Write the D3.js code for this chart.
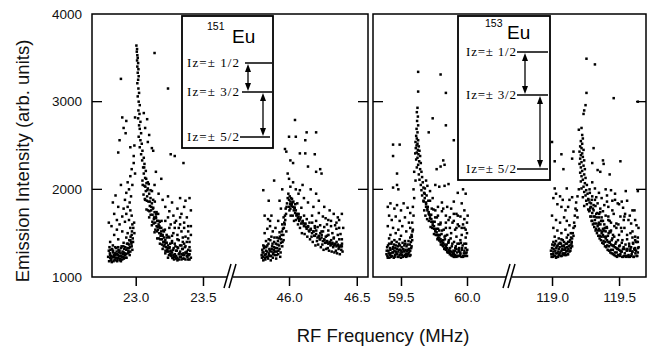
<!DOCTYPE html>
<html><head><meta charset="utf-8">
<script src="https://cdn.jsdelivr.net/npm/d3@7"></script>
<style>body{margin:0;background:#fff}</style>
</head><body><svg id="c" width="651" height="355"></svg>
<script>
// ---------- data ----------
const yTicks = [1000, 2000, 3000, 4000];
const segTicks = [[23.0, 23.5], [46.0, 46.5], [59.5, 60.0], [119.0, 119.5]];
const segDomains = [[22.675, 23.686], [45.579, 46.583], [59.288, 60.303], [118.694, 119.701]];
const isotopes = ["151", "153"];
const levelLabels = ["Iz=\u00B1 1/2", "Iz=\u00B1 3/2", "Iz=\u00B1 5/2"];

// 151Eu, ±1/2 <-> ±3/2 line (~23.0 MHz)
const peak1 = [
[23.005,3640],[23.01,3600],[23.008,3570],[23.012,3530],[23.015,3500],[23.01,3470],[23.018,3440],[23.012,3400],[23.02,3370],[23.015,3330],[23.022,3290],[23.018,3250],[23.012,3210],[23.02,3150],[23.025,3100],[23.015,3060],[23.022,3000],[23.03,2960],[23.02,2900],[23.028,2860],[23.018,2810],[23.035,2770],[23.025,2730],[23.03,2690],[23.04,2640],[23.022,2600],[23.035,2560],[23.045,2520],[23.03,2480],[23.05,2440],[23.04,2400],[23.06,2360],[23.048,2330],[23.065,2290],[23.055,2250],[23.075,2210],
[23.14,3555],[22.89,3260],[23.24,3150],[23.26,2400],[23.29,2380],[23.355,2300],[22.90,2820],[22.93,2780],[22.91,2700],[22.925,2640],[22.88,2560],[22.96,2480],[22.87,2420],[22.995,2820],[23.06,2870],[23.085,2800],[23.07,2700],[23.1,2620],[23.09,2540],[23.12,2470],[22.99,2500],[22.985,2380],[23.13,2440],
[22.985,2300],[22.97,2230],[22.995,2180],[22.96,2150],[22.94,2080],[22.975,2050],[22.95,2000],[22.93,1960],[22.965,1920],[22.92,1880],[22.955,1850],[22.94,1800],[22.91,1780],[22.96,1760],[22.93,1720],[22.97,1700],[22.9,1690],[22.95,1650],[22.92,1630],[22.975,1600],[22.96,1560],[22.88,1600],[22.86,1650],[22.84,1720],[22.87,1800],[22.83,1850],[22.85,1930],[22.89,2050],[22.82,1580],[22.80,1620],[22.86,1540],[22.9,1520],[22.94,1500],[22.97,1480],[22.93,1450],[22.96,1420],[22.84,1480],[22.81,1400],[22.87,1430],[22.91,1390],[22.95,1370],
[22.80,1300],[22.81,1250],[22.82,1210],[22.83,1280],[22.84,1230],[22.85,1190],[22.86,1260],[22.87,1220],[22.88,1300],[22.89,1240],[22.90,1200],[22.91,1280],[22.92,1250],[22.93,1310],[22.94,1270],[22.95,1330],[22.96,1290],[22.97,1350],[22.98,1400],[22.805,1340],[22.815,1190],[22.825,1320],[22.835,1180],[22.845,1270],[22.855,1330],[22.865,1200],[22.875,1280],[22.885,1210],[22.895,1350],[22.905,1260],[22.915,1320],[22.925,1220],[22.935,1380],[22.945,1300],[22.955,1250],[22.965,1400],[22.975,1310],[22.81,1220],[22.83,1360],[22.85,1250],[22.87,1340],[22.89,1180],[22.91,1230],
[22.795,1230],[22.802,1180],[22.808,1270],[22.813,1310],[22.818,1240],[22.822,1170],[22.828,1230],[22.832,1300],[22.838,1250],[22.842,1200],[22.848,1340],[22.852,1220],[22.858,1290],[22.862,1180],[22.868,1250],[22.872,1310],[22.878,1240],[22.882,1190],[22.888,1270],[22.892,1330],[22.898,1230],[22.902,1290],[22.908,1350],[22.912,1210],[22.918,1270],[22.922,1340],[22.928,1260],[22.932,1220],[22.938,1330],[22.942,1380],[22.948,1280],[22.952,1420],[22.958,1340],[22.962,1460],[22.968,1380],[22.972,1520],[22.978,1440],[22.982,1560],[22.988,1620],[22.99,1500],
[23.06,2180],[23.07,2130],[23.05,2100],[23.08,2070],[23.065,2040],[23.09,2010],[23.075,1980],[23.1,1950],[23.085,1920],[23.11,1900],[23.07,1880],[23.095,1860],[23.12,1840],[23.105,1810],[23.13,1790],[23.08,1770],[23.115,1760],[23.14,1740],[23.125,1710],[23.15,1690],[23.1,1680],[23.135,1660],[23.16,1640],[23.145,1620],[23.17,1600],[23.12,1590],[23.155,1580],[23.18,1560],[23.165,1540],[23.19,1520],[23.14,1510],[23.175,1500],[23.2,1480],[23.185,1470],[23.21,1450],[23.16,1440],[23.195,1430],[23.22,1420],[23.205,1400],[23.23,1390],[23.18,1380],[23.215,1370],[23.24,1360],[23.225,1340],[23.25,1330],[23.2,1320],[23.235,1310],[23.26,1300],[23.245,1290],[23.27,1280],[23.22,1270],[23.255,1260],[23.28,1250],[23.265,1240],[23.29,1230],[23.24,1220],[23.275,1215],[23.3,1210],[23.285,1200],[23.31,1190],[23.32,1260],[23.33,1230],[23.34,1200],[23.35,1250],[23.36,1210],[23.37,1280],[23.38,1240],[23.39,1200],[23.4,1260],[23.3,1300],[23.31,1340],[23.33,1290],[23.35,1320],[23.37,1350],[23.39,1310],[23.4,1340],[23.38,1400],[23.36,1380],[23.34,1360],[23.32,1420],[23.29,1380],[23.27,1410],[23.25,1450],[23.23,1480],[23.21,1520],[23.19,1560],[23.17,1640],[23.15,1720],[23.13,1880],[23.11,1990],[23.09,2080],
[23.052,2050],[23.058,1940],[23.063,2250],[23.068,1890],[23.072,2030],[23.078,2120],[23.083,1870],[23.087,1990],[23.092,1760],[23.097,2060],[23.102,1750],[23.106,1860],[23.111,1710],[23.116,1800],[23.121,1980],[23.124,1630],[23.128,1780],[23.133,1610],[23.137,1680],[23.142,1860],[23.146,1540],[23.151,1670],[23.155,1740],[23.158,1520],[23.163,1570],[23.167,1720],[23.171,1440],[23.176,1580],[23.179,1630],[23.183,1430],[23.188,1490],[23.192,1640],[23.196,1370],[23.2,1470],[23.204,1530],[23.208,1350],[23.213,1400],[23.217,1540],[23.221,1300],[23.226,1390],[23.23,1450],[23.234,1290],[23.239,1330],[23.243,1460],[23.247,1250],[23.252,1340],[23.256,1380],[23.26,1250],[23.265,1280],[23.269,1390],[23.273,1220],[23.278,1310],[23.282,1330],[23.286,1230],[23.291,1260],[23.295,1350],[23.3,1240],[23.305,1300],[23.31,1220],[23.315,1330],[23.32,1200],[23.325,1270],[23.33,1360],[23.335,1230],[23.34,1260],[23.345,1320],[23.35,1210],[23.355,1270],[23.36,1250],[23.365,1340],[23.37,1200],[23.375,1270],[23.38,1290],[23.385,1230],[23.39,1260],[23.395,1250],[23.4,1200],[23.405,1300],[23.41,1220],
[23.22,1640],[23.25,1560],[23.28,1500],[23.31,1430],[23.34,1520],[23.37,1460],[23.4,1400],[23.24,1680],[23.29,1620],[23.33,1680],[23.36,1620],[23.39,1580],[23.27,1470],[23.35,1400],[23.32,1560],[23.41,1480],
[23.14,2050],[23.17,1950],[23.2,1880],[23.22,1800],[23.25,1750],[23.28,1700],[23.3,1640],[23.33,1600],[23.36,1560],[23.39,1520],[23.19,2120],[23.15,2200],[23.24,1920],[23.27,1850],[23.31,1780],[23.34,1720],[23.38,1680],[23.4,1900],[23.37,1870],[23.33,1900],[23.41,1760],[23.36,1800],[23.26,1600],[23.29,1560],[23.31,1480],[23.35,1450],[23.39,1440],[23.41,1580]
];

// 151Eu, ±3/2 <-> ±5/2 line (~46.0 MHz)
const peak2 = [
[45.80,1220],[45.805,1280],[45.81,1190],[45.815,1330],[45.82,1250],[45.825,1200],[45.83,1300],[45.835,1230],[45.84,1360],[45.845,1210],[45.85,1270],[45.855,1320],[45.86,1240],[45.865,1190],[45.87,1290],[45.875,1350],[45.88,1220],[45.885,1280],[45.89,1400],[45.895,1250],[45.90,1330],[45.905,1210],[45.91,1290],[45.915,1370],[45.92,1260],[45.925,1440],[45.93,1320],[45.935,1230],[45.94,1390],[45.945,1480],[45.95,1350],[45.955,1550],[45.96,1420],[45.965,1620],[45.97,1700],[45.975,1780],[45.98,1520],[45.81,1360],[45.83,1410],[45.85,1430],[45.87,1460],[45.89,1340],[45.91,1450],[45.93,1510],[45.95,1600],[45.82,1500],[45.84,1550],[45.86,1580],[45.88,1520],[45.90,1560],[45.92,1640],[45.96,1680],
[45.798,1250],[45.803,1310],[45.808,1230],[45.812,1280],[45.818,1350],[45.822,1220],[45.828,1260],[45.832,1340],[45.838,1290],[45.842,1230],[45.848,1380],[45.852,1250],[45.858,1300],[45.862,1420],[45.868,1240],[45.872,1320],[45.878,1380],[45.882,1260],[45.888,1310],[45.892,1450],[45.898,1290],[45.902,1380],[45.908,1250],[45.912,1330],[45.918,1410],[45.922,1300],[45.928,1360],[45.932,1460],[45.938,1280],[45.942,1430],[45.948,1520],[45.952,1400],[45.958,1480],[45.962,1560],[45.968,1600],[45.972,1650],[45.978,1720],[45.982,1800],
[45.89,2100],[45.81,1990],[45.85,1870],[45.87,1700],[45.82,1700],[45.845,1660],[45.86,1640],[45.97,2460],[45.98,2430],[45.95,2000],[45.93,1870],[45.94,1780],
[45.985,1840],[45.99,1900],[45.995,1950],[46.0,1880],[46.005,1920],[46.01,1860],[46.015,1900],[46.02,1830],[46.0,1800],[46.01,1780],[46.025,1850],[46.03,1800],[46.035,1760],[46.04,1790],[46.045,1730],[46.05,1760],[46.055,1700],[46.06,1720],[46.065,1670],[46.07,1690],[46.075,1640],[46.08,1660],[46.09,1610],[46.1,1630],[46.11,1580],[46.12,1600],[46.13,1550],[46.14,1570],[46.15,1520],[46.16,1540],[46.17,1500],[46.18,1520],[46.19,1470],[46.2,1490],[46.21,1450],[46.22,1470],[46.23,1430],[46.24,1450],[46.25,1410],[46.26,1430],[46.27,1390],[46.28,1410],[46.29,1380],[46.3,1400],[46.31,1370],[46.32,1390],[46.33,1360],[46.34,1380],[46.35,1350],[46.36,1370],[46.37,1340],[46.38,1360],[46.39,1350],
[46.003,1760],[46.008,1830],[46.012,1700],[46.018,1810],[46.022,1890],[46.027,1700],[46.032,1860],[46.037,1640],[46.042,1790],[46.046,1830],[46.051,1650],[46.056,1710],[46.061,1840],[46.066,1600],[46.071,1720],[46.075,1660],[46.081,1560],[46.086,1680],[46.091,1790],[46.095,1500],[46.101,1640],[46.106,1610],[46.111,1700],[46.115,1490],[46.121,1610],[46.126,1570],[46.131,1660],[46.135,1460],[46.141,1580],[46.146,1530],[46.151,1620],[46.155,1430],[46.161,1550],[46.166,1460],[46.171,1620],[46.175,1400],[46.181,1520],[46.186,1470],[46.191,1560],[46.195,1360],[46.201,1530],[46.206,1410],[46.211,1570],[46.215,1370],[46.221,1460],[46.226,1430],[46.231,1500],[46.235,1340],[46.241,1480],[46.246,1370],[46.251,1520],[46.255,1310],[46.261,1420],[46.266,1390],[46.271,1460],[46.275,1320],[46.281,1400],[46.286,1330],[46.291,1480],[46.295,1300],[46.301,1390],[46.306,1360],[46.311,1420],[46.315,1290],[46.321,1380],[46.326,1340],[46.331,1450],[46.335,1280],[46.341,1370],[46.346,1300],[46.351,1400],[46.355,1270],[46.361,1360],[46.366,1320],[46.371,1430],[46.375,1260],[46.381,1350],[46.386,1310],[46.391,1380],[46.395,1290],
[46.17,1700],[46.2,1640],[46.23,1590],[46.26,1570],[46.29,1530],[46.32,1500],[46.35,1550],[46.38,1490],[46.4,1560],[46.22,1730],[46.27,1670],[46.31,1640],[46.34,1590],[46.37,1650],[46.19,1580],[46.24,1520],[46.28,1470],[46.33,1440],[46.36,1480],[46.39,1430],
[46.044,2791],[46.0,2600],[46.05,2600],[46.13,2650],[46.2,2650],[46.12,2560],[46.08,2410],[46.12,2410],[46.19,2400],[46.01,2330],[46.03,2300],[46.14,2260],[46.2,2200],[46.23,2230],[46.24,2180],[45.99,2180],[46.0,2120],[46.03,2080],[46.01,2030],[46.05,2000],[46.08,1990],[46.1,2050],[46.16,2000],[46.2,1950],[46.22,1870],[46.26,1800],[46.3,1760],[46.33,1720],[46.36,1680],[46.39,1720],[46.35,1620],[46.29,1650],[46.25,1690],[46.18,1800],[46.14,1850],[46.11,1900],[46.07,1950],[46.31,1580],[46.37,1560],[46.28,1600]
];

// 153Eu, ±1/2 <-> ±3/2 line (~59.6 MHz)
const peak3 = [
[59.63,3340],[59.63,3115],[59.625,2930],[59.62,2880],[59.628,2830],[59.622,2780],[59.63,2730],[59.618,2690],[59.625,2650],[59.615,2610],[59.62,2580],[59.63,2560],[59.61,2540],[59.625,2520],[59.618,2500],[59.635,2490],[59.612,2470],[59.628,2450],[59.64,2440],[59.62,2420],[59.608,2410],[59.632,2400],[59.645,2380],[59.625,2360],[59.615,2340],[59.638,2320],[59.65,2300],[59.63,2280],[59.62,2250],[59.645,2230],[59.655,2200],[59.635,2170],[59.66,2140],[59.64,2110],[59.665,2080],[59.65,2050],[59.67,2020],[59.655,1990],[59.675,1960],[59.66,1930],
[59.68,1950],[59.67,1870],[59.69,1800],[59.68,1900],[59.7,1760],[59.69,1830],[59.71,1720],[59.7,1780],[59.72,1670],[59.71,1740],[59.73,1630],[59.72,1700],[59.74,1590],[59.73,1660],[59.75,1550],[59.74,1620],[59.76,1520],[59.75,1580],[59.77,1480],[59.76,1540],[59.78,1450],[59.77,1510],[59.79,1420],[59.78,1480],[59.8,1400],[59.79,1450],[59.81,1370],[59.8,1430],[59.82,1350],[59.81,1410],[59.83,1330],[59.82,1390],[59.84,1310],[59.83,1370],[59.85,1290],[59.84,1350],[59.86,1280],[59.85,1330],[59.87,1260],[59.86,1310],[59.88,1250],[59.87,1300],[59.89,1240],[59.88,1290],[59.9,1230],[59.89,1280],[59.91,1250],[59.9,1270],[59.92,1230],[59.91,1300],[59.93,1240],[59.92,1320],[59.94,1290],[59.95,1260],[59.96,1310],[59.97,1230],[59.98,1300],[59.99,1270],[60.0,1240],
[59.672,1860],[59.676,1760],[59.681,2010],[59.685,1700],[59.69,1850],[59.694,1930],[59.698,1660],[59.703,1800],[59.707,1870],[59.711,1640],[59.716,1710],[59.72,1870],[59.724,1570],[59.729,1710],[59.733,1780],[59.737,1560],[59.742,1630],[59.746,1770],[59.75,1490],[59.755,1630],[59.759,1680],[59.763,1480],[59.768,1550],[59.772,1680],[59.776,1430],[59.781,1550],[59.785,1600],[59.789,1420],[59.794,1480],[59.798,1600],[59.802,1370],[59.807,1490],[59.811,1530],[59.815,1360],[59.82,1420],[59.824,1540],[59.828,1320],[59.833,1430],[59.837,1470],[59.841,1320],[59.846,1370],[59.85,1480],[59.854,1280],[59.859,1390],[59.863,1420],[59.867,1280],[59.872,1330],[59.876,1440],[59.88,1250],[59.885,1350],[59.889,1380],[59.893,1260],[59.898,1300],[59.902,1400],[59.906,1230],[59.911,1330],[59.915,1350],[59.919,1240],[59.924,1280],[59.928,1380],[59.932,1240],[59.937,1310],[59.941,1330],[59.945,1240],[59.95,1280],[59.954,1390],[59.958,1230],[59.963,1330],[59.967,1360],[59.971,1240],[59.976,1270],[59.98,1380],[59.984,1240],[59.989,1330],[59.993,1380],[59.997,1280],[60.002,1310],
[59.78,1700],[59.8,1620],[59.82,1780],[59.84,1560],[59.86,1650],[59.88,1500],[59.9,1720],[59.92,1460],[59.94,1580],[59.96,1480],[59.98,1760],[60.0,1500],[59.79,1530],[59.83,1460],[59.87,1560],[59.91,1540],[59.95,1420],[59.99,1450],[59.81,1850],[59.85,1800],[59.89,1620],[59.93,1700],[59.97,1600],[59.76,1760],[59.84,1620],[59.92,1560],[59.86,1400],[59.94,1380],[59.98,1560],[60.005,1700],
[59.74,2810],[59.71,2650],[59.84,3100],[59.80,3310],[59.84,2730],[59.9,2560],[59.77,2230],[59.8,2260],[59.83,2280],[59.82,2330],[59.76,2050],[59.79,2030],[59.83,2040],[59.86,2060],[59.9,1860],[59.96,1840],[59.93,1960],[59.97,2000],[59.99,1950],[59.72,1980],[59.74,1900],[59.78,1800],[59.81,1750],[59.84,1700],[59.87,1680],[59.9,1640],[59.93,1600],[59.96,1560],[59.99,1540],[59.88,1780],[59.92,1720],[59.95,1690],[59.98,1660],[60.0,1620],[59.69,2100],[59.7,2040],
[59.6,2200],[59.61,2100],[59.595,2000],[59.6,1900],[59.59,1800],[59.595,1700],[59.585,1620],[59.59,1540],[59.58,1480],[59.585,1420],
[59.44,2510],[59.49,2510],[59.44,2380],[59.47,2180],[59.44,2020],[59.47,2050],[59.48,2000],[59.4,1800],[59.42,1840],[59.45,1780],[59.47,1820],[59.5,1760],[59.52,1840],[59.55,1790],[59.57,1730],[59.41,1700],[59.43,1650],[59.46,1690],[59.49,1640],[59.53,1680],[59.56,1620],[59.4,1580],[59.44,1560],[59.48,1540],[59.51,1580],[59.54,1520],[59.57,1560],[59.42,1480],[59.46,1500],[59.5,1470],
[59.39,1260],[59.395,1340],[59.4,1220],[59.405,1300],[59.41,1380],[59.415,1250],[59.42,1310],[59.425,1230],[59.43,1400],[59.435,1280],[59.44,1340],[59.445,1220],[59.45,1300],[59.455,1250],[59.46,1360],[59.465,1270],[59.47,1320],[59.475,1230],[59.48,1290],[59.485,1380],[59.49,1250],[59.495,1310],[59.5,1220],[59.505,1340],[59.51,1280],[59.515,1230],[59.52,1300],[59.525,1360],[59.53,1250],[59.535,1310],[59.54,1230],[59.545,1290],[59.55,1370],[59.555,1260],[59.56,1320],[59.565,1240],[59.57,1300],[59.575,1400],[59.58,1350],[59.41,1440],[59.45,1420],[59.49,1430],[59.53,1410],[59.57,1450],
[59.392,1300],[59.397,1240],[59.402,1360],[59.407,1270],[59.412,1220],[59.417,1330],[59.422,1270],[59.427,1380],[59.432,1240],[59.437,1320],[59.442,1280],[59.447,1370],[59.452,1230],[59.457,1330],[59.462,1290],[59.467,1400],[59.472,1260],[59.477,1350],[59.482,1230],[59.487,1310],[59.492,1360],[59.497,1270],[59.502,1300],[59.507,1250],[59.512,1390],[59.517,1320],[59.522,1240],[59.527,1290],[59.532,1380],[59.537,1260],[59.542,1350],[59.547,1240],[59.552,1310],[59.557,1410],[59.562,1280],[59.567,1370],[59.572,1250],[59.577,1330],[59.582,1460],[59.587,1520]
];

// 153Eu, ±3/2 <-> ±5/2 line (~119.2 MHz)
const peak4 = [
[119.257,3490],[119.32,3425],[119.257,3100],[119.46,3040],[119.64,3000],[119.25,2960],[119.24,2900],[119.235,2860],[119.22,2700],[119.2,2680],[119.0,2540],[119.07,2400],[119.02,2320],[119.085,2230],[119.15,2350],[119.16,2430],[119.31,2470],[119.3,2300],[119.38,2330],[119.385,2290],[119.43,2170],[119.51,2320],[119.34,2220],[119.36,2200],[119.4,2000],[119.44,1990],[119.47,1950],[119.55,1980],[119.64,1980],[119.5,1830],[119.52,1860],[119.56,1870],[119.45,1870],[119.49,1840],[119.42,1800],[119.6,1760],[119.58,1700],[119.62,1650],[119.54,1690],[119.46,1720],
[119.225,2620],[119.23,2580],[119.215,2550],[119.225,2520],[119.21,2490],[119.22,2470],[119.235,2450],[119.205,2430],[119.225,2410],[119.215,2390],[119.23,2370],[119.21,2350],[119.24,2330],[119.22,2310],[119.205,2290],[119.235,2270],[119.215,2250],[119.245,2230],[119.225,2210],[119.21,2190],[119.24,2170],[119.22,2150],[119.25,2130],[119.23,2110],[119.215,2090],[119.245,2070],[119.26,2050],[119.235,2030],[119.22,2010],[119.255,1990],[119.24,1970],[119.265,1950],[119.25,1930],[119.23,1910],[119.27,1890],[119.255,1870],[119.28,1850],[119.26,1830],[119.24,1810],[119.285,1790],[119.27,1770],
[119.2,2000],[119.19,1920],[119.18,1850],[119.175,1780],[119.17,1700],[119.165,1620],[119.16,1560],[119.155,1500],[119.15,1440],[119.145,1380],[119.185,1760],[119.17,1580],[119.16,1470],[119.15,1350],[119.19,1680],
[119.02,2010],[119.03,1950],[119.01,1900],[119.06,1920],[119.08,1880],[119.11,2010],[119.13,1880],[119.15,1910],[119.04,1830],[119.07,1800],[119.1,1760],[119.12,1800],[119.0,1700],[119.03,1650],[119.06,1620],[119.09,1680],[119.11,1640],[119.13,1590],[119.01,1560],[119.04,1530],[119.07,1500],[119.1,1540],[119.12,1480],[119.02,1460],[119.05,1440],[119.08,1420],[119.11,1450],[119.14,1500],
[118.995,1260],[119.0,1330],[119.005,1230],[119.01,1290],[119.015,1360],[119.02,1240],[119.025,1300],[119.03,1220],[119.035,1350],[119.04,1270],[119.045,1230],[119.05,1320],[119.055,1260],[119.06,1390],[119.065,1240],[119.07,1300],[119.075,1350],[119.08,1260],[119.085,1310],[119.09,1400],[119.095,1270],[119.1,1330],[119.105,1250],[119.11,1380],[119.115,1300],[119.12,1260],[119.125,1350],[119.13,1290],[119.135,1420],[119.14,1330],[119.01,1400],[119.03,1410],[119.05,1380],[119.07,1430],[119.09,1350],[119.12,1400],
[118.992,1300],[118.997,1230],[119.002,1370],[119.007,1260],[119.012,1320],[119.017,1240],[119.022,1380],[119.027,1270],[119.032,1330],[119.037,1230],[119.042,1360],[119.047,1290],[119.052,1250],[119.057,1340],[119.062,1280],[119.067,1380],[119.072,1240],[119.077,1320],[119.082,1270],[119.087,1360],[119.092,1250],[119.097,1310],[119.102,1380],[119.107,1290],[119.112,1340],[119.117,1260],[119.122,1320],[119.127,1400],[119.132,1360],[119.137,1300],[119.142,1450],[119.147,1400],
[119.28,1760],[119.29,1690],[119.3,1730],[119.295,1640],[119.31,1690],[119.305,1600],[119.32,1650],[119.315,1570],[119.33,1610],[119.325,1530],[119.34,1580],[119.335,1500],[119.35,1550],[119.345,1470],[119.36,1530],[119.355,1440],[119.37,1500],[119.365,1420],[119.38,1480],[119.375,1390],[119.39,1460],[119.385,1380],[119.4,1440],[119.395,1350],[119.41,1420],[119.405,1340],[119.42,1400],[119.415,1310],[119.43,1390],[119.425,1300],[119.44,1370],[119.435,1280],[119.45,1360],[119.445,1270],[119.46,1350],[119.455,1260],[119.47,1340],[119.465,1250],[119.48,1330],[119.475,1240],[119.49,1320],[119.485,1230],[119.5,1310],[119.495,1250],[119.51,1300],[119.505,1240],[119.52,1290],[119.53,1230],[119.54,1320],[119.55,1240],[119.56,1310],[119.57,1230],[119.58,1300],[119.59,1240],[119.6,1290],[119.61,1230],[119.62,1310],[119.63,1240],[119.64,1280],
[119.272,1880],[119.277,1750],[119.282,1960],[119.286,1690],[119.291,1840],[119.296,1880],[119.3,1640],[119.305,1780],[119.31,1820],[119.314,1610],[119.319,1690],[119.324,1810],[119.328,1550],[119.333,1680],[119.338,1730],[119.342,1530],[119.347,1600],[119.352,1720],[119.356,1470],[119.361,1600],[119.366,1640],[119.37,1460],[119.375,1520],[119.38,1640],[119.384,1410],[119.389,1530],[119.394,1560],[119.398,1400],[119.403,1460],[119.408,1570],[119.412,1360],[119.417,1470],[119.422,1500],[119.426,1350],[119.431,1400],[119.436,1510],[119.44,1310],[119.445,1420],[119.45,1440],[119.454,1310],[119.459,1360],[119.464,1460],[119.468,1280],[119.473,1380],[119.478,1400],[119.482,1280],[119.487,1320],[119.492,1420],[119.496,1250],[119.501,1350],[119.506,1360],[119.51,1260],[119.515,1290],[119.52,1390],[119.524,1230],[119.529,1320],[119.534,1340],[119.538,1240],[119.543,1270],[119.548,1370],[119.552,1230],[119.557,1300],[119.562,1320],[119.566,1240],[119.571,1250],[119.576,1350],[119.58,1230],[119.585,1320],[119.59,1340],[119.594,1260],[119.599,1290],[119.604,1390],[119.608,1230],[119.613,1320],[119.618,1330],[119.622,1270],[119.627,1300],[119.632,1400],[119.636,1240],[119.641,1330],[119.646,1340],
[119.33,1910],[119.36,1740],[119.39,1820],[119.42,1690],[119.45,1760],[119.48,1610],[119.51,1690],[119.54,1560],[119.57,1650],[119.6,1520],[119.63,1590],[119.35,1620],[119.38,1550],[119.41,1930],[119.44,1530],[119.47,1880],[119.5,1480],[119.53,1790],[119.56,1430],[119.59,1610],[119.62,1460],[119.645,1560],[119.43,1640],[119.465,1580],[119.515,1560],[119.545,1720],[119.585,1500],[119.615,1760],[119.64,1450],[119.4,1520],[119.455,1480],[119.525,1420],[119.575,1380],[119.625,1400],[119.495,1600],[119.535,1650],[119.605,1380],[119.37,1680],
[119.29,1800],[119.31,1760],[119.33,1720],[119.35,1680],[119.37,1640],[119.39,1600],[119.41,1560],[119.43,1520],[119.3,1920],[119.32,1880],[119.34,1840],[119.36,1780],[119.38,1750],[119.4,1700],[119.42,1650],[119.44,1620],[119.48,1560],[119.52,1520],[119.56,1480],[119.6,1450],[119.62,1420],[119.64,1400],[119.28,2000],[119.3,2080],[119.32,2010],[119.35,1960],[119.37,1900],[119.41,1860]
];

const peaks = [peak1, peak2, peak3, peak4];

// ---------- layout ----------
const svg = d3.select("#c");
const yTop = 14, yBot = 277;
const y = d3.scaleLinear().domain([1000, 4000]).range([yBot, yTop]);
const panels = [
  {x0: 92, x1: 368, segs: [[92, 228], [232, 368]], brk: 230},
  {x0: 373, x1: 646, segs: [[373, 507], [511, 646]], brk: 509}
];
const xScales = [];
panels.forEach((p, pi) => p.segs.forEach((r, si) => {
  xScales.push(d3.scaleLinear().domain(segDomains[pi * 2 + si]).range(r));
}));

const font = "Liberation Sans, Arial, Helvetica, sans-serif";

// dots
peaks.forEach((pk, i) => {
  const xs = xScales[i];
  svg.append("g").selectAll("rect").data(pk).join("rect")
    .attr("x", d => xs(d[0]) - 1.25).attr("y", d => y(d[1]) - 1.25)
    .attr("width", 2.5).attr("height", 2.5).attr("fill", "#000");
});

// x axes
xScales.forEach((xs, i) => {
  const g = svg.append("g").attr("transform", `translate(0,${yBot})`)
    .call(d3.axisBottom(xs).tickValues(segTicks[i]).tickFormat(d3.format(".1f")).tickSize(9).tickSizeOuter(0).tickPadding(6));
  g.select(".domain").remove();
  g.selectAll(".tick line").attr("stroke", "#000").attr("stroke-width", 1.5);
  g.selectAll(".tick text").attr("font-family", font).attr("font-size", 13.5).attr("fill", "#111");
});

// panel frames + inward y ticks
panels.forEach((p, pi) => {
  svg.append("rect").attr("x", p.x0).attr("y", yTop).attr("width", p.x1 - p.x0).attr("height", yBot - yTop)
    .attr("fill", "none").attr("stroke", "#000").attr("stroke-width", 1.5);
  [2000, 3000].forEach(v => {
    svg.append("line").attr("x1", p.x0).attr("x2", p.x0 + 10).attr("y1", y(v)).attr("y2", y(v)).attr("stroke", "#000").attr("stroke-width", 1.3);
    svg.append("line").attr("x1", p.x1 - 10).attr("x2", p.x1).attr("y1", y(v)).attr("y2", y(v)).attr("stroke", "#000").attr("stroke-width", 1.3);
  });
  // axis break marks
  svg.append("rect").attr("x", p.brk - 3).attr("y", yBot - 2).attr("width", 6).attr("height", 4).attr("fill", "#fff");
  [-2.5, 2.5].forEach(o => {
    svg.append("line").attr("x1", p.brk + o - 3.5).attr("y1", yBot + 11).attr("x2", p.brk + o + 3.5).attr("y2", yBot - 13)
      .attr("stroke", "#000").attr("stroke-width", 1.5);
  });
});

// y axis labels
const yAx = svg.append("g").attr("transform", `translate(${panels[0].x0},0)`)
  .call(d3.axisLeft(y).tickValues(yTicks).tickFormat(d3.format("d")).tickSize(0).tickPadding(10));
yAx.select(".domain").remove();
yAx.selectAll(".tick text").attr("font-family", font).attr("font-size", 13.5).attr("fill", "#111");

// axis titles
svg.append("text").attr("x", 383).attr("y", 342).attr("text-anchor", "middle")
  .attr("font-family", font).attr("font-size", 18.5).attr("fill", "#111").text("RF Frequency (MHz)");
svg.append("text").attr("transform", "translate(29,161) rotate(-90)").attr("text-anchor", "middle")
  .attr("font-family", font).attr("font-size", 18.5).attr("fill", "#111").text("Emission Intensity (arb. units)");

// insets (energy level diagrams)
const insets = [
  {x: 182, y: 16, w: 91, h: 132, sup: [207, 30], eu: [232, 43], textX: 187, textW: 52,
   levels: [[63, 245, 272], [92, 242, 272], [137, 240, 270]], arrows: [[248, 63, 92], [263, 92, 137]]},
  {x: 458, y: 16, w: 92, h: 164, sup: [485, 27], eu: [507, 39], textX: 466, textW: 50,
   levels: [[52, 517, 548], [95, 517, 548], [169, 517, 548]], arrows: [[525, 52, 95], [540, 95, 169]]}
];
insets.forEach((b, i) => {
  const g = svg.append("g");
  g.append("rect").attr("x", b.x).attr("y", b.y).attr("width", b.w).attr("height", b.h)
    .attr("fill", "#fff").attr("stroke", "#000").attr("stroke-width", 1.8);
  g.append("text").attr("x", b.sup[0]).attr("y", b.sup[1]).attr("font-family", font).attr("font-size", 10.5).text(isotopes[i]);
  g.append("text").attr("x", b.eu[0]).attr("y", b.eu[1]).attr("font-family", font).attr("font-size", 19).text("Eu");
  b.levels.forEach((l, k) => {
    g.append("line").attr("x1", l[1]).attr("x2", l[2]).attr("y1", l[0]).attr("y2", l[0]).attr("stroke", "#000").attr("stroke-width", 1.5);
    g.append("text").attr("x", b.textX).attr("y", l[0] + 4).attr("font-family", "Liberation Serif, Times New Roman, serif")
      .attr("font-size", 13).attr("textLength", b.textW).attr("lengthAdjust", "spacing").text(levelLabels[k]);
  });
  b.arrows.forEach(a => {
    const [ax, y0, y1] = a;
    g.append("line").attr("x1", ax).attr("x2", ax).attr("y1", y0 + 6).attr("y2", y1 - 6).attr("stroke", "#000").attr("stroke-width", 1.3);
    g.append("path").attr("d", `M${ax},${y0 + 1}L${ax - 3},${y0 + 9}L${ax + 3},${y0 + 9}Z`).attr("fill", "#000");
    g.append("path").attr("d", `M${ax},${y1 - 1}L${ax - 3},${y1 - 9}L${ax + 3},${y1 - 9}Z`).attr("fill", "#000");
  });
});
</script>
</body></html>
